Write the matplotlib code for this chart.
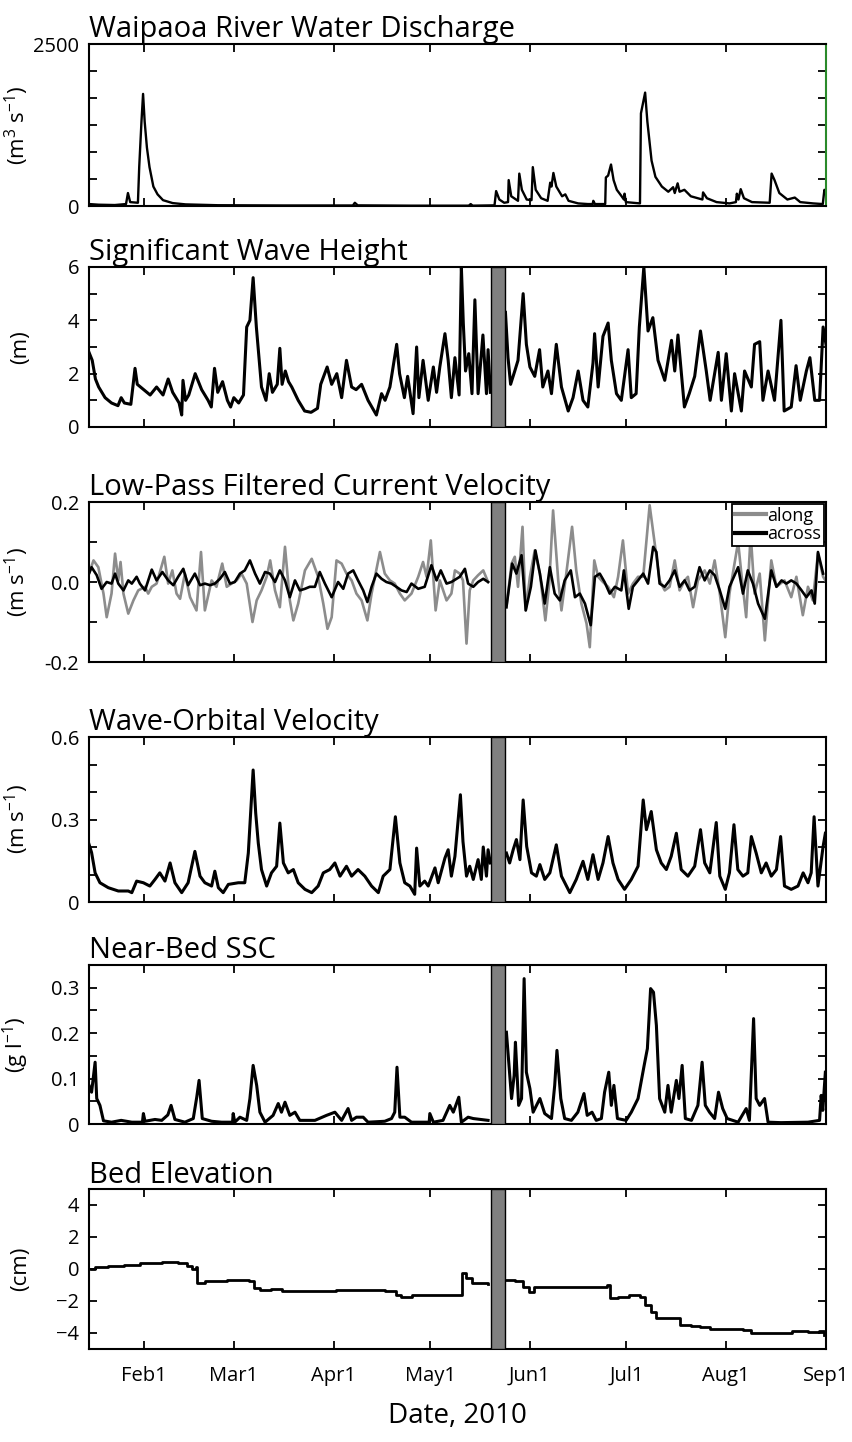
import numpy as np
import matplotlib
matplotlib.use('Agg')
import matplotlib.pyplot as plt
import matplotlib.dates as mdates
from datetime import datetime

plt.rcParams['font.family'] = ['Open Sans', 'DejaVu Sans']
plt.rcParams['mathtext.fontset'] = 'custom'
plt.rcParams['mathtext.rm'] = 'Open Sans'
plt.rcParams['mathtext.it'] = 'Open Sans'

# days after 15 Jan 2010
start_date = datetime(2010, 1, 15)
end_date = datetime(2010, 9, 1)
gap_days = [124.8, 129.4]   # instrument turnaround

q_day = [0, 3, 8, 11.5, 12.1, 12.8, 15.2, 15.6, 16.3, 16.8, 17.3, 18.0, 18.8, 20, 21.3, 23, 26, 30, 40, 60,
         82, 82.6, 83.5, 100, 118, 118.6, 119.2, 126, 126.5, 127.5, 129, 130.2, 130.4, 131.2, 133.3, 133.7,
         134.5, 136, 137.5, 137.9, 138.8, 140.5, 142.5, 143.3, 143.7, 144.3, 145.2, 147, 148, 149, 152, 155,
         156.5, 156.7, 157.2, 160.4, 160.6, 161.3, 162.2, 163, 164, 165.5, 166.2, 166.4, 166.8, 171.2, 171.5,
         172.8, 173.5, 174.8, 176, 178, 180, 181.5, 182, 182.9, 183.5, 185, 187, 190.6, 190.8, 192, 195, 199,
         201, 201.3, 201.8, 202.5, 203.5, 206, 211.5, 212.1, 213, 214.5, 217, 219.3, 221, 225, 228, 228.5, 229]
q_val = [30, 20, 15, 30, 200, 60, 50, 600, 1300, 1730, 1300, 900, 600, 300, 180, 90, 45, 25, 12, 8,
         8, 50, 10, 5, 5, 30, 5, 10, 230, 100, 50, 60, 400, 150, 80, 500,
         250, 100, 90, 600, 250, 120, 80, 360, 300, 510, 300, 150, 180, 80, 40, 30,
         30, 80, 30, 30, 440, 470, 640, 400, 250, 150, 100, 190, 60, 40, 1430,
         1750, 1300, 700, 450, 300, 220, 290, 200, 350, 220, 250, 150, 100, 210, 120, 60, 40,
         60, 190, 100, 260, 120, 60, 50, 500, 400, 200, 100, 130, 60, 40, 30, 250, 200]

hs_day = [0, 1, 2, 3, 5, 7, 9, 10, 11, 13, 14.3, 15, 17, 19, 21, 23, 24.6, 26, 28, 28.8, 29.2, 30, 31, 33, 35,
          37, 38, 39, 40, 41.5, 43, 44, 45, 46.5, 48, 49, 50, 51, 52, 53.6, 55, 56, 57, 58.5, 59.3, 60, 61,
          62, 63, 65, 67, 69, 71, 72, 74, 75.4, 77, 78.5, 80, 81.6, 83, 84.7, 86.7, 89.3, 90.9, 92, 93.5,
          95.6, 96.5, 98, 99, 100.7, 101.8, 102.5, 103.8, 105.4, 107, 108, 109, 110.6, 111.6, 112.6, 113.7,
          115, 115.7, 116.3, 117, 118, 119, 119.9, 120.9, 122.4, 123.5, 124, 124.7,
          129.4, 130.2, 131, 132.3, 133.3, 134.9, 135.9, 137, 138.5, 140, 141, 142.6, 143.7, 145.2, 146.8,
          148.9, 150.4, 152, 153.5, 155, 156.6, 157.1, 158.2, 159.7, 161.3, 162.3, 163.9, 165.4, 167.5,
          168.5, 170, 171, 172.4, 173.7, 175.2, 176.8, 178.9, 181, 182, 183, 185, 186.5, 188.2, 190, 191.8,
          193, 195.5, 196.5, 198, 199.6, 200.6, 202.7, 203.7, 205.8, 206.8, 208.4, 209.4, 211, 213, 215,
          216, 218.2, 219.7, 221, 222.9, 224, 225.5, 227, 228.1, 229]
hs_val = [2.8, 2.5, 1.8, 1.5, 1.1, 0.9, 0.8, 1.1, 0.9, 0.85, 2.2, 1.6, 1.4, 1.2, 1.5, 1.2, 1.8, 1.3, 0.9, 0.45,
          1.75, 1.0, 1.2, 2.0, 1.4, 1.0, 0.75, 2.2, 1.3, 1.7, 1.0, 0.75, 1.1, 0.9, 1.2, 3.75, 4.0, 5.6, 3.75,
          1.5, 1.0, 2.0, 1.3, 1.6, 2.95, 1.6, 2.1, 1.7, 1.5, 1.0, 0.6, 0.55, 0.7, 1.6, 2.25, 1.6, 2.0, 1.1,
          2.5, 1.5, 1.4, 1.6, 1.0, 0.45, 1.25, 1.0, 1.5, 3.1, 2.0, 1.1, 1.9, 0.5, 3.0, 1.1, 2.5, 1.0, 2.25,
          1.3, 2.25, 3.5, 2.5, 1.1, 2.6, 1.2, 6.0, 3.9, 2.1, 2.75, 1.25, 4.77, 1.25, 3.45, 1.25, 2.9, 1.3,
          4.3, 2.6, 1.6, 2.1, 2.5, 5.0, 3.1, 2.25, 1.9, 2.9, 1.5, 2.1, 1.25, 3.1, 1.5, 0.6, 1.1, 2.1, 1.0,
          0.75, 2.4, 3.5, 1.5, 3.4, 3.9, 2.5, 1.25, 1.0, 2.9, 1.1, 1.25, 3.75, 6.0, 3.6, 4.1, 2.5, 1.75,
          3.25, 2.1, 3.45, 0.75, 1.25, 1.9, 3.6, 2.1, 1.0, 2.8, 1.0, 2.75, 0.6, 2.0, 0.6, 2.1, 1.5, 3.1,
          3.2, 1.0, 2.1, 1.0, 4.0, 0.6, 0.75, 2.3, 1.0, 2.1, 2.6, 1.0, 1.0, 3.75, 3.1]

along_day = [0, 1.4, 2.9, 4.5, 5.5, 7.0, 8.1, 9.1, 9.8, 10.7, 12.2, 13.8, 15.3, 17.4, 18.4, 19.5, 21.0, 23.4,
             24.6, 25.9, 27.2, 28.3, 29.8, 31.4, 33.4, 34.8, 36.0, 38.1, 39.6, 41.4, 42.8, 44.3, 45.9, 47.4,
             49.0, 50.8, 52.1, 53.6, 55.2, 56.3, 57.8, 59.3, 60.9, 62.4, 63.5, 65.0, 67.1, 69.2, 71.2, 72.8,
             74.1, 75.4, 76.9, 78.5, 80.0, 81.6, 83.1, 84.7, 86.5, 87.8, 90.4, 91.9, 93.5, 95.0, 96.6, 98.1,
             100.2, 102.3, 103.8, 104.9, 106.2, 107.7, 109.0, 111.1, 112.6, 113.7, 115.2, 116.2, 117.3,
             118.3, 119.4, 120.9, 122.5, 124.0,
             129.7, 131.3, 132.3, 133.3, 134.7, 135.7, 137.0, 138.5, 140.1, 141.8, 143.0, 144.2, 145.8,
             146.8, 148.3, 150.1, 151.4, 153.0, 154.6, 155.6, 157.0, 158.2, 159.7, 161.3, 163.1, 164.4,
             165.9, 167.5, 169.0, 170.6, 172.2, 174.2, 175.8, 177.3, 178.9, 180.4, 182.0, 183.5, 185.1,
             186.1, 187.7, 189.2, 191.3, 192.9, 194.4, 196.0, 197.7, 199.0, 201.7, 202.7, 204.2, 205.6,
             206.8, 208.4, 210.0, 212.0, 213.6, 216.1, 218.2, 219.8, 221.8, 223.4, 224.9, 226.5, 228.1, 228.8]
along_val = [0.021, 0.054, 0.037, -0.029, -0.088, -0.029, 0.071, 0.004, 0.05, -0.029, -0.079, -0.046, -0.021,
             -0.012, -0.029, -0.012, -0.004, 0.063, -0.004, 0.029, -0.029, -0.042, 0.021, -0.038, -0.071,
             0.075, -0.071, 0.004, -0.012, 0.046, -0.012, -0.004, 0.004, 0.021, -0.004, -0.1, -0.046, -0.021,
             0.013, 0.054, -0.021, -0.063, 0.088, -0.046, -0.096, -0.054, 0.029, 0.058, 0.013, -0.054, -0.117,
             -0.088, 0.054, 0.046, 0.021, 0.004, -0.029, -0.046, -0.096, -0.029, 0.075, 0.021, 0.004, -0.004,
             -0.029, -0.046, -0.029, 0.013, 0.05, 0.013, 0.104, -0.071, 0.004, -0.046, -0.029, 0.029, 0.021,
             0.004, -0.154, -0.021, 0.004, 0.017, 0.029, 0.0,
             -0.063, 0.046, 0.063, -0.012, 0.138, -0.071, 0.013, 0.079, 0.021, -0.096, -0.004, 0.179, 0.004,
             -0.071, 0.021, 0.138, 0.029, -0.054, -0.104, -0.163, 0.054, 0.013, 0.0, -0.012, -0.038, 0.013,
             0.104, -0.029, -0.004, 0.013, 0.013, 0.192, 0.096, 0.004, -0.021, -0.012, 0.054, -0.021, 0.004,
             0.013, -0.063, 0.004, 0.029, -0.004, 0.054, -0.029, -0.138, -0.029, 0.1, 0.021, -0.088, 0.12,
             -0.029, 0.021, -0.146, 0.054, -0.012, 0.004, -0.038, 0.013, -0.083, -0.012, -0.046, 0.071, 0.013,
             0.004]

across_day = [0, 0.8, 2.4, 3.9, 5.5, 7.0, 8.1, 9.1, 10.7, 12.2, 13.3, 14.8, 15.8, 17.4, 19.5, 21.0, 22.8, 24.6,
              26.2, 27.7, 29.3, 30.8, 32.9, 34.5, 36.0, 37.6, 39.1, 40.7, 42.2, 43.8, 45.3, 46.9, 48.4, 50.0,
              51.6, 53.1, 54.7, 56.2, 57.8, 59.3, 60.9, 62.4, 64.0, 65.5, 67.1, 68.6, 70.2, 71.7, 73.3, 75.4,
              77.4, 79.0, 80.5, 82.1, 83.6, 85.2, 86.5, 87.8, 89.3, 90.9, 92.4, 94.0, 95.5, 97.1, 98.7, 100.2,
              102.3, 104.3, 106.4, 108.0, 109.3, 111.1, 112.6, 114.2, 115.2, 116.8, 117.8, 119.4, 120.9,
              122.5, 124.0,
              129.7, 131.5, 132.8, 134.4, 135.7, 137.3, 138.7, 140.1, 141.6, 143.2, 144.7, 146.3, 147.8,
              149.7, 151.0, 152.5, 154.1, 155.9, 157.2, 158.7, 160.2, 161.8, 163.4, 165.4, 166.2, 167.7,
              169.0, 170.6, 172.2, 173.7, 175.3, 176.3, 177.3, 178.9, 180.4, 182.0, 183.5, 185.1, 186.6,
              188.2, 189.7, 191.3, 192.9, 194.4, 196.0, 197.7, 199.0, 201.7, 203.2, 204.7, 206.3, 207.9,
              210.0, 212.0, 213.6, 215.2, 216.7, 218.2, 219.8, 221.4, 222.9, 224.5, 225.5, 226.5, 228.1]
across_val = [0.021, 0.037, 0.017, -0.017, 0.0, -0.004, 0.021, -0.004, -0.021, 0.004, -0.004, 0.013, -0.004,
              -0.021, 0.031, 0.004, 0.025, 0.004, -0.008, 0.013, 0.033, -0.008, 0.021, -0.008, -0.004, -0.008,
              -0.004, 0.008, 0.025, -0.004, 0.0, 0.021, 0.029, 0.054, 0.021, -0.004, 0.025, 0.021, 0.0, 0.029,
              0.004, -0.038, 0.004, -0.021, -0.017, -0.012, -0.012, 0.025, -0.004, -0.038, 0.0, -0.017, 0.021,
              0.029, 0.004, -0.021, -0.05, -0.012, 0.021, 0.008, 0.0, -0.004, -0.012, -0.021, -0.025, -0.004,
              -0.017, -0.012, 0.042, 0.004, 0.029, -0.004, 0.0, 0.008, 0.013, 0.033, -0.004, -0.012, 0.0,
              0.008, 0.0,
              -0.063, 0.046, 0.021, 0.067, -0.071, -0.012, 0.079, 0.021, -0.054, 0.037, -0.029, -0.046, 0.004,
              0.029, -0.038, -0.029, -0.054, -0.108, 0.013, 0.021, 0.0, -0.029, -0.012, -0.021, 0.029, -0.067,
              -0.012, 0.004, 0.021, -0.004, 0.088, 0.075, -0.004, -0.012, 0.004, 0.029, -0.012, 0.004, -0.021,
              -0.012, 0.037, 0.004, 0.029, 0.017, -0.021, -0.067, -0.012, 0.037, -0.029, 0.029, -0.004, -0.054,
              -0.092, 0.029, -0.012, 0.004, -0.004, 0.004, -0.004, -0.021, -0.038, -0.021, -0.054, 0.075, 0.021]

ub_day = [0, 0.8, 1.9, 3.4, 6, 9.1, 12.2, 13.3, 14.8, 16.9, 18.9, 20.5, 22, 23.6, 25.2, 26.7, 28.8, 30.8, 32.9,
          34.5, 36, 38.1, 39.1, 40.2, 41.7, 43.3, 46.4, 48.4, 49.5, 50.5, 51.0, 51.8, 52.6, 53.6, 55.2, 56.7,
          58.3, 59.3, 60.4, 61.9, 63.5, 65, 67.1, 69.2, 71.2, 72.8, 74.8, 76.4, 78, 80, 81.6, 83.6, 85.7, 87.8,
          89.9, 91.4, 93.5, 95.2, 96.6, 98.1, 99.7, 101.2, 101.8, 102.8, 104.3, 105.4, 107.5, 108.5, 110.6,
          111.6, 112.6, 113.7, 115.4, 116.2, 117.3, 118.3, 119.4, 120.9, 121.9, 122.5, 123.5, 124.0, 124.7,
          129.7, 130.7, 131.8, 132.8, 133.9, 134.9, 136.0, 137.5, 139.0, 140.1, 141.6, 143.2, 145.2, 146.8,
          149.4, 151.4, 153.5, 155.0, 156.6, 158.2, 159.7, 161.3, 162.8, 164.4, 166.4, 168.5, 170.6, 172.2,
          173.2, 174.7, 176.3, 177.8, 179.4, 180.9, 182.5, 184.0, 186.1, 188.2, 190.0, 191.3, 192.9, 194.9,
          196.0, 197.7, 199.0, 200.4, 201.6, 203.2, 204.7, 205.8, 207.3, 208.9, 210.4, 212.0, 213.6, 214.9,
          216.1, 218.2, 220.3, 221.9, 223.4, 224.4, 225.3, 226.5, 228.1, 228.8]
ub_val = [0.21, 0.18, 0.106, 0.07, 0.052, 0.04, 0.04, 0.034, 0.076, 0.07, 0.058, 0.082, 0.106, 0.076, 0.142,
          0.07, 0.034, 0.07, 0.184, 0.094, 0.07, 0.058, 0.112, 0.052, 0.034, 0.064, 0.07, 0.07, 0.178, 0.383,
          0.48, 0.323, 0.214, 0.118, 0.058, 0.106, 0.13, 0.287, 0.142, 0.106, 0.118, 0.07, 0.046, 0.034, 0.058,
          0.106, 0.118, 0.142, 0.094, 0.13, 0.094, 0.118, 0.094, 0.058, 0.034, 0.094, 0.118, 0.31, 0.142, 0.07,
          0.058, 0.028, 0.196, 0.058, 0.076, 0.058, 0.124, 0.07, 0.16, 0.19, 0.094, 0.166, 0.39, 0.22, 0.094,
          0.13, 0.082, 0.154, 0.082, 0.2, 0.094, 0.19, 0.142,
          0.178, 0.142, 0.19, 0.227, 0.154, 0.371, 0.202, 0.106, 0.094, 0.136, 0.082, 0.106, 0.208, 0.094,
          0.034, 0.082, 0.148, 0.082, 0.172, 0.082, 0.142, 0.238, 0.142, 0.082, 0.046, 0.082, 0.13, 0.371,
          0.263, 0.329, 0.19, 0.142, 0.118, 0.166, 0.25, 0.118, 0.094, 0.13, 0.263, 0.142, 0.106, 0.289,
          0.094, 0.046, 0.106, 0.281, 0.118, 0.094, 0.106, 0.238, 0.178, 0.106, 0.142, 0.094, 0.118, 0.238,
          0.058, 0.046, 0.058, 0.106, 0.07, 0.106, 0.31, 0.058, 0.202, 0.25]

ssc_day = [0, 0.8, 1.9, 2.4, 3.4, 4.5, 7, 10, 13.3, 16.6, 16.9, 17.4, 20.5, 22.6, 24.5, 25.5, 26.7, 29.8, 32.4,
           33.5, 34.2, 35.2, 38.1, 41.2, 44.6, 44.8, 45.3, 46.9, 49, 50, 51, 52.1, 53.1, 54.7, 57.2, 58.8, 59.8,
           60.9, 62.4, 64, 65.5, 70.2, 73.8, 76.4, 78.5, 80.5, 81.6, 83.1, 85.2, 86.7, 91.9, 94, 95.0, 95.7,
           96.6, 98.1, 100.2, 105.7, 105.9, 107, 110, 112.1, 113.2, 114.9, 115.7, 117.8, 119.4, 124.0,
           129.7, 130.5, 131.3, 132.1, 132.5, 133.5, 134.4, 135.2, 135.9, 137, 138, 140.1, 141.6, 143.7,
           144.7, 145.4, 146.6, 147.8, 149.9, 151.9, 153.8, 154.8, 156.3, 157.6, 159.2, 160.2, 161.5, 162.3,
           163.1, 164.2, 166.9, 168.5, 170.6, 172.5, 173.5, 174.5, 175.4, 176.3, 177.3, 178.9, 179.9, 180.9,
           182.5, 183.3, 184.3, 185.3, 187.2, 189.2, 190.5, 191.5, 192.8, 194.4, 195.6, 196.9, 198.3, 201.7,
           204.2, 205.2, 206.5, 207.3, 208.4, 209.9, 211.0, 215, 223.4, 227, 227.5, 228.0, 228.8]
ssc_val = [0.085, 0.07, 0.136, 0.056, 0.041, 0.007, 0.004, 0.008, 0.004, 0.004, 0.023, 0.006, 0.01, 0.008, 0.02,
           0.041, 0.01, 0.004, 0.012, 0.06, 0.096, 0.012, 0.006, 0.004, 0.004, 0.023, 0.004, 0.015, 0.008, 0.056,
           0.129, 0.085, 0.026, 0.004, 0.019, 0.045, 0.026, 0.048, 0.019, 0.026, 0.008, 0.008, 0.019, 0.026,
           0.008, 0.034, 0.008, 0.015, 0.015, 0.004, 0.006, 0.012, 0.026, 0.125, 0.015, 0.015, 0.004, 0.004,
           0.023, 0.004, 0.008, 0.041, 0.026, 0.059, 0.004, 0.015, 0.012, 0.008,
           0.202, 0.129, 0.056, 0.107, 0.18, 0.041, 0.056, 0.32, 0.114, 0.078, 0.026, 0.056, 0.023, 0.012,
           0.085, 0.162, 0.056, 0.012, 0.008, 0.026, 0.067, 0.019, 0.026, 0.008, 0.012, 0.07, 0.114, 0.041,
           0.085, 0.012, 0.008, 0.026, 0.056, 0.129, 0.166, 0.298, 0.29, 0.217, 0.056, 0.026, 0.085, 0.026,
           0.096, 0.056, 0.129, 0.012, 0.008, 0.041, 0.136, 0.041, 0.026, 0.012, 0.07, 0.034, 0.012, 0.004,
           0.034, 0.008, 0.232, 0.056, 0.041, 0.056, 0.004, 0.003, 0.004, 0.008, 0.063, 0.03, 0.114]

bed_day = [0.5, 2, 5.9, 11, 16, 22.8, 27.8, 30.4, 32, 33.2, 33.7, 36, 43, 49.7, 51.4, 53.1, 56.5, 59.9, 66.6,
           76.7, 86.8, 91.9, 95.3, 97, 100.3, 107, 114.7, 115.9, 117.2, 118.9, 124.0,
           129, 132.3, 134.9, 136.6, 138.3, 140.8, 149.2, 154.3, 161, 161.9, 164.4, 167.8, 171.2, 172.8,
           174.5, 176.2, 179.6, 182.1, 183.6, 187.2, 189.7, 193.1, 203.2, 205.7, 211.6, 218.4, 223.4, 226.8,
           228.5]
bed_val = [0.0, 0.13, 0.2, 0.27, 0.36, 0.44, 0.38, 0.2, 0.02, 0.15, -0.88, -0.77, -0.67, -0.77, -1.2, -1.3,
           -1.24, -1.4, -1.36, -1.3, -1.34, -1.4, -1.6, -1.78, -1.6, -1.65, -1.65, -0.25, -0.57, -0.88, -0.94,
           -0.67, -0.73, -1.1, -1.45, -1.1, -1.1, -1.1, -1.1, -1.03, -1.82, -1.72, -1.65, -1.72, -2.24,
           -2.66, -3.08, -3.04, -3.08, -3.5, -3.54, -3.64, -3.75, -3.81, -4.02, -3.98, -3.87, -3.92, -3.87,
           -4.13]

titles = ['Waipaoa River Water Discharge', 'Significant Wave Height', 'Low-Pass Filtered Current Velocity',
          'Wave-Orbital Velocity', 'Near-Bed SSC', 'Bed Elevation']
ylabels = [r'(m$^3$ s$^{-1}$)', '(m)', r'(m s$^{-1}$)', r'(m s$^{-1}$)', r'(g l$^{-1}$)', '(cm)']

t0 = mdates.date2num(start_date)
t1 = mdates.date2num(end_date)


def xy(days, vals, split=True):
    d = np.asarray(days, float)
    v = np.asarray(vals, float)
    if split:
        i = np.searchsorted(d, gap_days[0])
        d = np.insert(d, i, np.nan)
        v = np.insert(v, i, np.nan)
    return t0 + d, v


fig = plt.figure(figsize=(8.52, 14.42), dpi=100)
W, H = 852, 1442
tops = [44, 267, 502, 737, 965, 1189]
hts = [162, 160, 160, 165, 159, 160]
axes = []
for top, h in zip(tops, hts):
    axes.append(fig.add_axes([89 / W, 1 - (top + h) / H, 737 / W, h / H]))

ax = axes[0]
x, y = xy(q_day, q_val, split=False)
ax.plot(x, y, color='black', lw=1.7)
ax.set_ylim(0, 2500)
ax.set_yticks(np.linspace(0, 2500, 7))
ax.set_yticklabels(['0', '', '', '', '', '', '2500'])
ax.spines['right'].set_color('#2a8a2a')

ax = axes[1]
x, y = xy(hs_day, hs_val)
ax.plot(x, y, color='black', lw=2.2)
ax.set_ylim(0, 6)
ax.set_yticks(range(7))
ax.set_yticklabels(['0', '', '2', '', '4', '', '6'])

ax = axes[2]
x, y = xy(along_day, along_val)
ax.plot(x, y, color='#8c8c8c', lw=1.9, label='along')
x, y = xy(across_day, across_val)
ax.plot(x, y, color='black', lw=1.9, label='across')
ax.set_ylim(-0.2, 0.2)
ax.set_yticks([-0.2, -0.1, 0, 0.1, 0.2])
ax.set_yticklabels(['-0.2', '', '0.0', '', '0.2'])
leg = ax.legend(loc='upper right', fontsize=13, fancybox=False, framealpha=1, edgecolor='black',
                handlelength=1.7, handletextpad=0.1, borderpad=0.15, labelspacing=0.05, borderaxespad=0.1)
leg.get_frame().set_linewidth(1.3)
for ln in leg.get_lines():
    ln.set_linewidth(3)

ax = axes[3]
x, y = xy(ub_day, ub_val)
ax.plot(x, y, color='black', lw=2.2)
ax.set_ylim(0, 0.6)
ax.set_yticks(np.arange(0, 0.61, 0.1))
ax.set_yticklabels(['0', '', '', '0.3', '', '', '0.6'])

ax = axes[4]
x, y = xy(ssc_day, ssc_val)
ax.plot(x, y, color='black', lw=2.2)
ax.set_ylim(0, 0.35)
ax.set_yticks(np.arange(0, 0.36, 0.05))
ax.set_yticklabels(['0', '', '0.1', '', '0.2', '', '0.3', ''])

ax = axes[5]
x, y = xy(bed_day, bed_val)
ax.plot(x, y, color='black', lw=2.0, drawstyle='steps-post')
ax.set_ylim(-5, 5)
ax.set_yticks([-4, -2, 0, 2, 4])
ax.set_xlabel('Date, 2010', fontsize=20, labelpad=12)

for i, ax in enumerate(axes):
    ax.set_xlim(t0, t1)
    ax.xaxis.set_major_locator(mdates.MonthLocator(bymonthday=1))
    ax.xaxis.set_major_formatter(mdates.DateFormatter('%b1'))
    ax.tick_params(direction='in', top=True, right=True, length=6, width=1.3, labelsize=14.5, pad=7)
    ax.tick_params(axis='x', pad=12)
    if i < 5:
        ax.tick_params(labelbottom=False)
    for s in ax.spines.values():
        s.set_linewidth(1.5)
    if i > 0:
        ax.axvspan(t0 + gap_days[0], t0 + gap_days[1], facecolor='#808080', edgecolor='black',
                   lw=1.0, zorder=3)
    ax.set_title(titles[i], loc='left', fontsize=21, pad=4)
    ax.set_ylabel(ylabels[i], fontsize=16)
    ax.yaxis.set_label_coords(-0.079, 0.5)

fig.savefig('out.png', dpi=100)
